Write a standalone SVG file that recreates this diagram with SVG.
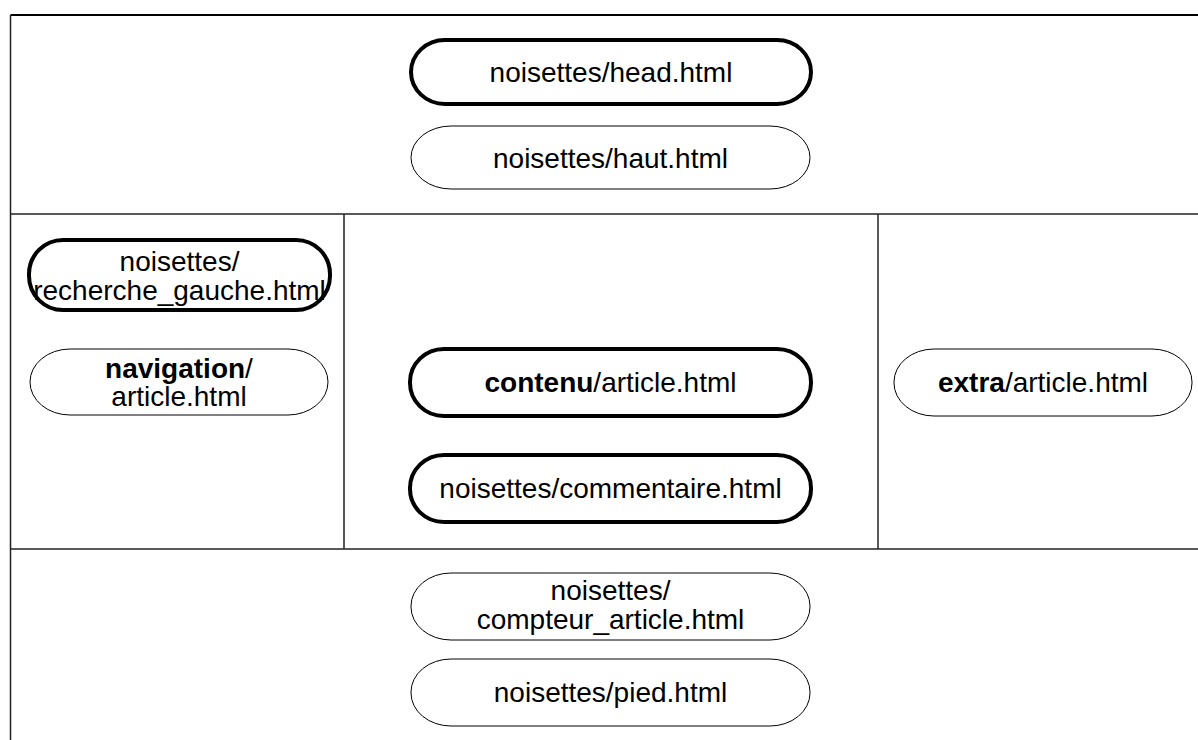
<svg xmlns="http://www.w3.org/2000/svg" width="1198" height="740" viewBox="0 0 1198 740">
<style>
.frame{fill:none;stroke:#222;stroke-width:1.5}
.thin{fill:#fff;stroke:#000;stroke-width:1}
.thick{fill:#fff;stroke:#000;stroke-width:4}
text{font-family:"Liberation Sans",Arial,sans-serif;font-size:28px;fill:#000;text-anchor:middle}
.b{font-weight:bold}
</style>
<rect width="1198" height="740" fill="#fff"/>
<g id="frame">
<line class="frame" x1="10.5" y1="15" x2="1198" y2="15" style="stroke-width:2;stroke:#000"/>
<line class="frame" x1="10.5" y1="15" x2="10.5" y2="740"/>
<line class="frame" x1="10.5" y1="214" x2="1198" y2="214"/>
<line class="frame" x1="10.5" y1="549" x2="1198" y2="549"/>
<line class="frame" x1="344" y1="214" x2="344" y2="549"/>
<line class="frame" x1="878" y1="214" x2="878" y2="549"/>
</g>
<g id="connectors"></g>
<g id="head"><rect class="thick" x="411" y="40" width="400" height="64" rx="34" ry="32"/><text x="611" y="82">noisettes/head.html</text></g>
<g id="haut"><rect class="thin" x="411" y="126" width="399" height="63" rx="40" ry="32"/><text x="610.5" y="168">noisettes/haut.html</text></g>
<g id="recherche"><rect class="thick" x="29" y="240" width="301" height="70" rx="34" ry="34"/><text x="179.5" y="271">noisettes/</text><text x="179.5" y="300">recherche_gauche.html</text></g>
<g id="navigation"><rect class="thin" x="30" y="349" width="298" height="66" rx="40" ry="33"/><text x="179" y="378"><tspan class="b">navigation</tspan>/</text><text x="179" y="406">article.html</text></g>
<g id="contenu"><rect class="thick" x="410" y="349" width="401" height="67" rx="34" ry="33"/><text x="610.5" y="392"><tspan class="b">contenu</tspan>/article.html</text></g>
<g id="commentaire"><rect class="thick" x="410" y="455" width="401" height="67" rx="34" ry="33"/><text x="610.5" y="498">noisettes/commentaire.html</text></g>
<g id="extra"><rect class="thin" x="894" y="349" width="298" height="67" rx="40" ry="33"/><text x="1043" y="392"><tspan class="b">extra</tspan>/article.html</text></g>
<g id="compteur"><rect class="thin" x="411" y="573" width="399" height="67" rx="40" ry="33"/><text x="610.5" y="600">noisettes/</text><text x="610.5" y="629">compteur_article.html</text></g>
<g id="pied"><rect class="thin" x="411" y="659" width="399" height="67" rx="40" ry="33"/><text x="610.5" y="702">noisettes/pied.html</text></g>
</svg>
